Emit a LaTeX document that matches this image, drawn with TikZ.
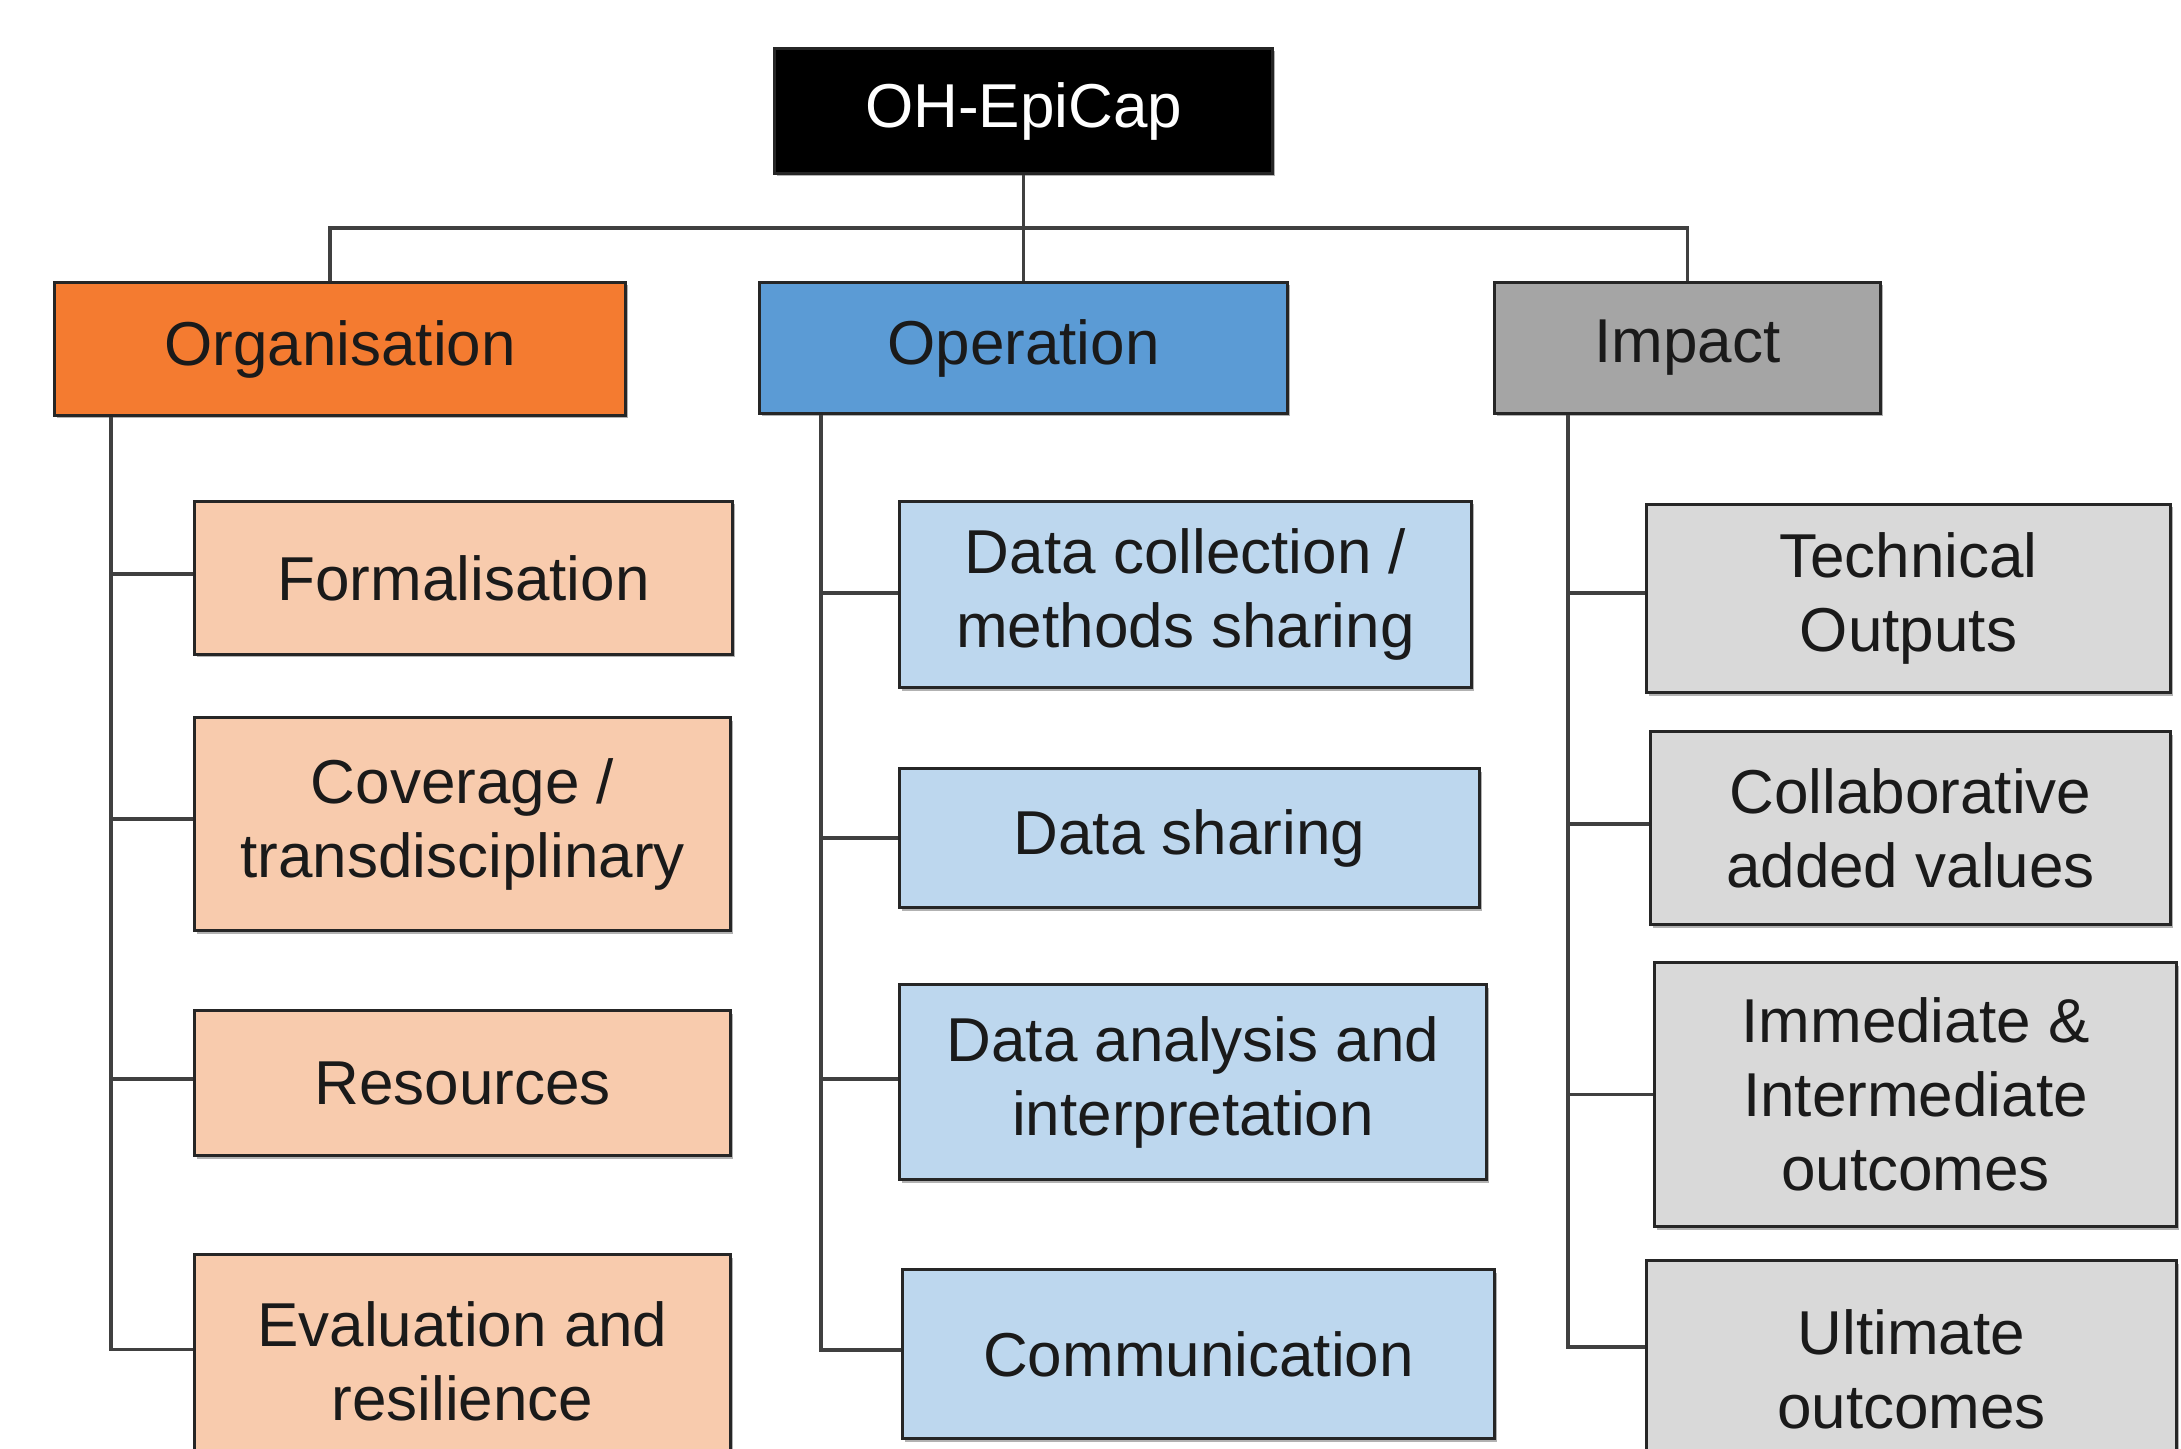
\documentclass[tikz,border=0pt]{standalone}
\usepackage{fontspec}
\setmainfont{Liberation Sans}
\usetikzlibrary{shadows}
\definecolor{orgdark}{HTML}{F47B30}
\definecolor{orglight}{HTML}{F8CBAD}
\definecolor{opdark}{HTML}{5B9BD5}
\definecolor{oplight}{HTML}{BDD7EE}
\definecolor{impdark}{HTML}{A5A5A5}
\definecolor{implight}{HTML}{D9D9D9}
\definecolor{linecol}{HTML}{404040}
\definecolor{txtcol}{HTML}{1A1A1A}
\tikzset{
  box/.style={draw=black!85, line width=1.4pt, inner sep=0pt, align=center,
    text=txtcol, font=\fontsize{31}{37}\selectfont,
    drop shadow={shadow xshift=1.2pt, shadow yshift=-1.5pt, fill=black!30, opacity=1}},
  conn/.style={draw=linecol, line width=1.7pt}
}
\begin{document}
\begin{tikzpicture}[x=0.5pt,y=-0.5pt]
\clip (0,0) rectangle (2181,1449);
\fill[white] (0,0) rectangle (2181,1449);
% top
\node[box, fill=black, text=white, minimum width=249pt, minimum height=62.5pt] (top) at (1023.5,111) {OH-EpiCap};
% level 1
\node[box, fill=orgdark, minimum width=285.5pt, minimum height=66.5pt] (org) at (340,349) {Organisation};
\node[box, fill=opdark, minimum width=264pt, minimum height=65.5pt] (op) at (1023.5,348) {Operation};
\node[box, fill=impdark, minimum width=193pt, minimum height=65.5pt] (imp) at (1687.5,348) {Impact};
% organisation children
\node[box, fill=orglight, minimum width=269pt, minimum height=76.5pt] (form) at (463.5,578) {Formalisation};
\node[box, fill=orglight, minimum width=268pt, minimum height=106.5pt] (cov) at (462.5,824) {Coverage /\\transdisciplinary};
\node[box, fill=orglight, minimum width=268pt, minimum height=72.5pt] (res) at (462.5,1083) {Resources};
\node[box, fill=orglight, minimum width=268pt, minimum height=107pt] (eval) at (462.5,1361.5) {Evaluation and\\resilience};
% operation children
\node[box, fill=oplight, minimum width=286pt, minimum height=93pt] (dc) at (1185.5,594.5) {Data collection /\\methods sharing};
\node[box, fill=oplight, minimum width=290pt, minimum height=69.5pt] (ds) at (1189.5,838) {Data sharing};
\node[box, fill=oplight, minimum width=293.5pt, minimum height=97.5pt] (da) at (1193,1082) {Data analysis and\\interpretation};
\node[box, fill=oplight, minimum width=296pt, minimum height=84.5pt] (comm) at (1198.5,1354) {Communication};
% impact children
\node[box, fill=implight, minimum width=262pt, minimum height=94pt] (tech) at (1908.5,598.5) {Technical\\Outputs};
\node[box, fill=implight, minimum width=260pt, minimum height=96.5pt] (collab) at (1910.5,828) {Collaborative\\added values};
\node[box, fill=implight, minimum width=261pt, minimum height=132pt] (imm) at (1915.5,1094.5) {Immediate \&\\Intermediate\\outcomes};
\node[box, fill=implight, minimum width=265pt, minimum height=109pt] (ult) at (1911.5,1369.5) {Ultimate\\outcomes};
% attachment points on the children
\coordinate (formc) at ([yshift=2pt]form.west);
\coordinate (covc) at ([yshift=2.5pt]cov.west);
\coordinate (resc) at ([yshift=2pt]res.west);
\coordinate (evalc) at ([yshift=6pt]eval.west);
\coordinate (dcc) at ([yshift=0.75pt]dc.west);
\coordinate (dsc) at (ds.west);
\coordinate (dac) at ([yshift=1.5pt]da.west);
\coordinate (commc) at ([yshift=2pt]comm.west);
\coordinate (techc) at ([yshift=2.75pt]tech.west);
\coordinate (collabc) at ([yshift=2pt]collab.west);
\coordinate (immc) at (imm.west);
\coordinate (ultc) at ([yshift=11.25pt]ult.west);
% connectors top
\coordinate (bar) at (1023,228);
\draw[conn] (top.south) -- (op.north);
\draw[conn] (org.north -| 330,0) |- (bar) -| (imp.north);
% trunks
\coordinate (ot) at (111,0);
\coordinate (pt) at (821,0);
\coordinate (it) at (1568,0);
\draw[conn] (org.south -| ot) |- (evalc);
\draw[conn] (ot |- formc) -- (formc);
\draw[conn] (ot |- covc) -- (covc);
\draw[conn] (ot |- resc) -- (resc);
\draw[conn] (op.south -| pt) |- (commc);
\draw[conn] (pt |- dcc) -- (dcc);
\draw[conn] (pt |- dsc) -- (dsc);
\draw[conn] (pt |- dac) -- (dac);
\draw[conn] (imp.south -| it) |- (ultc);
\draw[conn] (it |- techc) -- (techc);
\draw[conn] (it |- collabc) -- (collabc);
\draw[conn] (it |- immc) -- (immc);
\end{tikzpicture}
\end{document}
